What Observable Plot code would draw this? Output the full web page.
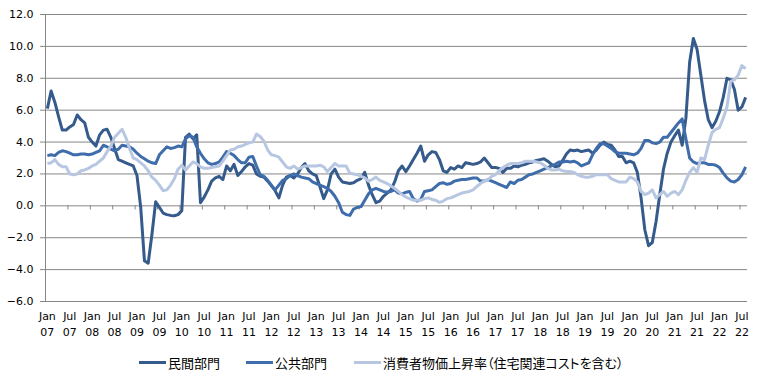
<!DOCTYPE html>
<html><head><meta charset="utf-8">
<script src="https://cdn.jsdelivr.net/npm/d3@7"></script>
<script src="https://cdn.jsdelivr.net/npm/@observablehq/plot@0.6"></script>
<style>
body{margin:0;background:#fff;}
#wrap{position:relative;width:761px;height:384px;overflow:hidden;}
#legend{position:absolute;top:352px;left:0;width:761px;height:20px;font-family:"Noto Sans CJK JP";font-size:13px;color:#000;font-feature-settings:"palt";}
.item{position:absolute;top:0;height:20px;display:flex;align-items:center;white-space:nowrap;}
.sw{width:27px;height:3px;margin-right:2px;}
</style></head><body>
<div id="wrap"><div id="chart"></div><div id="legend"></div></div>
<script>
// Monthly series, Jan 2007 – Aug 2022 (%)
const privateSector = [
  6.1, 7.2, 6.5, 5.6, 4.75, 4.75, 4.95, 5.1, 5.7, 5.4, 5.2, 4.3,
  4.0, 3.75, 4.45, 4.75, 4.8, 4.3, 3.6, 2.9, 2.8, 2.7, 2.6, 2.5,
  1.9, -0.1, -3.45, -3.6, -1.8, 0.25, -0.1, -0.45, -0.55, -0.6, -0.62, -0.55,
  -0.3, 4.3, 4.5, 4.2, 4.45, 0.2, 0.55, 1.0, 1.55, 1.75, 1.85, 1.65,
  2.5, 2.2, 2.6, 1.9, 2.15, 2.45, 2.65, 2.55, 2.0, 1.85, 1.8, 1.55,
  1.25, 0.95, 0.5, 1.3, 1.8, 1.9, 1.75, 2.0, 2.4, 2.65, 2.2, 2.0,
  1.9, 1.2, 0.45, 1.0, 2.0, 2.3, 1.8, 1.5, 1.45, 1.4, 1.45, 1.6,
  1.7, 2.1, 1.3, 0.7, 0.2, 0.3, 0.6, 0.8, 1.0, 1.5, 2.2, 2.5,
  2.15, 2.5, 2.9, 3.3, 3.75, 2.8, 3.2, 3.4, 3.35, 2.9, 2.2, 2.1,
  2.4, 2.3, 2.5, 2.4, 2.7, 2.65, 2.6, 2.65, 2.75, 3.0, 2.7, 2.4,
  2.4, 2.35, 2.1, 2.35, 2.35, 2.5, 2.45, 2.55, 2.6, 2.7, 2.75, 2.85,
  2.9, 2.95, 2.8, 2.6, 2.45, 2.5, 2.85, 3.25, 3.5, 3.45, 3.5, 3.4,
  3.45, 3.5, 3.3, 3.5, 3.8, 4.0, 3.85, 3.8, 3.5, 3.1, 3.1, 2.7,
  2.8, 2.7, 2.1, 0.5, -1.5, -2.5, -2.3, -1.0, 0.7, 2.3, 3.3, 4.0,
  4.4, 4.75, 3.8, 5.5, 9.0, 10.5, 9.8, 8.2, 6.6, 5.4, 4.9, 5.3,
  5.9, 6.8, 8.0, 7.9, 7.3, 6.0, 6.2, 6.8
];
const publicSector = [
  3.15, 3.2, 3.15, 3.35, 3.45, 3.4, 3.3, 3.2, 3.2, 3.25, 3.25, 3.2,
  3.25, 3.35, 3.45, 3.8, 3.7, 3.55, 3.45, 3.55, 3.8, 3.75, 3.7, 3.55,
  3.3, 3.1, 2.95, 2.8, 2.7, 2.65, 3.2, 3.45, 3.7, 3.6, 3.65, 3.75,
  3.7, 4.2, 4.4, 4.3, 3.7, 3.3, 2.95, 2.7, 2.6, 2.65, 2.75, 3.05,
  3.4, 3.3, 3.15, 2.9, 2.7, 2.7, 3.05, 3.1, 2.5, 1.95, 1.85, 1.6,
  1.3, 1.0, 1.3, 1.6, 1.7, 1.9, 2.0, 1.9, 1.8, 1.75, 1.7, 1.5,
  1.4, 1.3, 1.2, 1.1, 0.9, 0.6, 0.2, -0.4, -0.55, -0.6, -0.2, -0.1,
  -0.05, 0.35, 0.75, 1.0, 1.1, 1.0, 0.9, 0.85, 0.9, 1.0, 0.8, 0.75,
  0.85, 0.9, 0.45, 0.3, 0.4, 0.9, 0.95, 1.0, 1.2, 1.4, 1.45, 1.35,
  1.4, 1.55, 1.6, 1.65, 1.65, 1.7, 1.75, 1.75, 1.55, 1.55, 1.65, 1.55,
  1.45, 1.35, 1.25, 1.15, 1.5, 1.4, 1.6, 1.65, 1.8, 1.95, 2.0, 2.1,
  2.2, 2.3, 2.4, 2.5, 2.6, 2.75, 2.75, 2.8, 2.75, 2.8, 2.7, 2.5,
  2.6, 2.7, 3.2, 3.6, 3.9, 3.9, 3.75, 3.6, 3.4, 3.3, 3.3, 3.3,
  3.25, 3.2, 3.3, 3.6, 4.1, 4.1, 3.95, 3.9, 4.0, 4.3, 4.3, 4.6,
  4.9, 5.2, 5.45, 4.2, 3.0, 2.75, 2.65, 2.7, 2.7, 2.6, 2.6, 2.55,
  2.4, 2.05, 1.75, 1.55, 1.5, 1.65, 1.95, 2.45
];
const cpih = [
  2.65, 2.7, 2.9, 2.6, 2.45, 2.45, 2.0, 1.95, 2.0, 2.2, 2.25, 2.35,
  2.5, 2.6, 2.8, 3.0, 3.4, 3.75, 4.3, 4.55, 4.8, 4.3, 3.6, 3.0,
  2.9, 2.7, 2.5, 2.2, 1.8, 1.6, 1.3, 0.95, 1.0, 1.3, 1.7, 2.3,
  2.55, 2.25, 2.5, 2.75, 2.65, 2.45, 2.35, 2.35, 2.4, 2.45, 2.5, 2.8,
  3.15, 3.5, 3.55, 3.7, 3.75, 3.85, 3.95, 4.0, 4.5, 4.35, 4.05, 3.5,
  3.2, 3.15, 3.05, 2.75, 2.45, 2.35, 2.5, 2.3, 2.4, 2.5, 2.5, 2.5,
  2.5, 2.55, 2.45, 2.15, 2.4, 2.65, 2.5, 2.5, 2.5, 2.05, 2.0, 1.95,
  1.85, 1.75, 1.55, 1.65, 1.8, 1.6, 1.5, 1.4, 1.25, 1.1, 0.9, 0.7,
  0.55, 0.45, 0.35, 0.35, 0.35, 0.45, 0.5, 0.4, 0.35, 0.22, 0.3, 0.45,
  0.5, 0.6, 0.7, 0.8, 0.85, 0.9, 1.0, 1.2, 1.4, 1.55, 1.65, 1.85,
  1.95, 2.2, 2.4, 2.55, 2.65, 2.65, 2.65, 2.7, 2.8, 2.8, 2.8, 2.75,
  2.7, 2.55, 2.35, 2.25, 2.25, 2.3, 2.2, 2.15, 2.15, 2.1, 1.95, 1.85,
  1.8, 1.8, 1.85, 1.95, 1.95, 1.95, 1.95, 1.7, 1.6, 1.5, 1.5, 1.5,
  1.8, 1.7, 1.5, 0.9, 0.7, 0.8, 1.0, 0.5, 0.7, 0.9, 0.6, 0.8,
  0.9, 0.7, 1.0, 1.6, 2.1, 2.4, 2.1, 3.0, 2.9, 3.8, 4.6, 4.8,
  4.9, 5.5, 6.2, 7.8, 7.9, 8.2, 8.8, 8.6
];
const seriesNames = ["民間部門", "公共部門", "消費者物価上昇率（住宅関連コストを含む）"];
const seriesColors = ["#355a8c", "#3f6dab", "#b8c7e1"];
const monthLabels = ["Jan", "Jul"];
const yearLabels = ["07","08","09","10","11","12","13","14","15","16","17","18","19","20","21","22"];
const yTicks = [-6, -4, -2, 0, 2, 4, 6, 8, 10, 12];

const N = privateSector.length;
const allSeries = [privateSector, publicSector, cpih];
const rows = [];
allSeries.forEach((vals, s) => vals.forEach((v, i) => rows.push({m: i, v, s: seriesNames[s]})));

const labelRows = [];
yearLabels.forEach((yr, yi) => monthLabels.forEach((mo, hi) => labelRows.push({m: yi * 12 + hi * 6, mo, yr})));
const tickMarks = labelRows.map(d => d.m - 0.5).filter(m => m > -0.5);

const grid = "#868686";
const chart = Plot.plot({
  width: 761, height: 345,
  marginLeft: 45, marginRight: 14, marginTop: 14, marginBottom: 44,
  style: {fontFamily: "DejaVu Sans", fontSize: "11px", color: "#000", background: "#fff", overflow: "visible"},
  x: {type: "linear", domain: [-0.5, N - 0.5], axis: null},
  y: {domain: [-6, 12], axis: null},
  color: {domain: seriesNames, range: seriesColors},
  marks: [
    Plot.ruleY(yTicks, {y: d => d, stroke: grid, strokeWidth: 1, insetLeft: -5}),
    Plot.ruleX([-0.5], {stroke: grid, strokeWidth: 1}),
    Plot.ruleX(tickMarks, {x: d => d, y1: 0, y2: -0.26, stroke: grid, strokeWidth: 1}),
    Plot.text(yTicks, {y: d => d, text: d => d3.format(".1f")(d), frameAnchor: "left", textAnchor: "end", dx: -12, fill: "#000"}),
    Plot.text(labelRows, {x: "m", text: "mo", frameAnchor: "bottom", dy: 18, fill: "#000"}),
    Plot.text(labelRows, {x: "m", text: "yr", frameAnchor: "bottom", dy: 34.5, fill: "#000"}),
    Plot.line(rows, {x: "m", y: "v", z: "s", stroke: "s", strokeWidth: 3, strokeLinejoin: "round", strokeLinecap: "butt"})
  ]
});
document.getElementById("chart").appendChild(chart);

const legendPos = [{sw: 139, tx: 168}, {sw: 246, tx: 275}, {sw: 354, tx: 383}];
const legend = document.getElementById("legend");
seriesNames.forEach((name, i) => {
  const it = document.createElement("div");
  it.className = "item";
  it.style.left = legendPos[i].sw + "px";
  const sw = document.createElement("span");
  sw.className = "sw";
  sw.style.background = seriesColors[i];
  const tx = document.createElement("span");
  tx.textContent = name;
  it.appendChild(sw); it.appendChild(tx);
  legend.appendChild(it);
});
</script>
</body></html>
